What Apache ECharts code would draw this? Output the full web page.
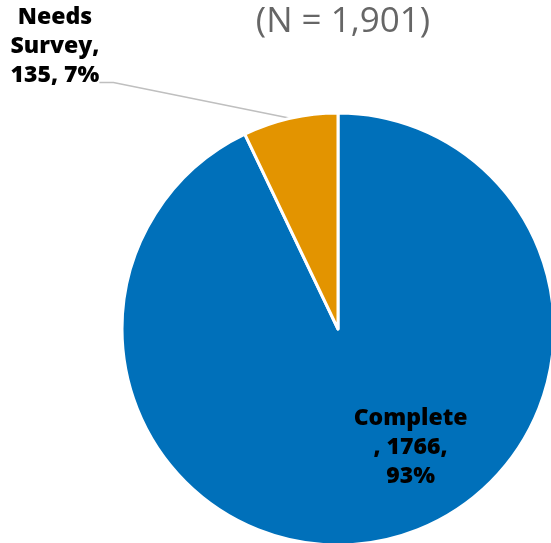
<!DOCTYPE html>
<html><head><meta charset="utf-8">
<script src="https://cdn.jsdelivr.net/npm/echarts@6/dist/echarts.min.js"></script>
<style>html,body{margin:0;padding:0;background:#fff}#c{width:551px;height:543px}</style>
</head><body><div id="c"></div>
<script>
const titleText = '(N = 1,901)';
const categories = ['Complete', 'Needs Survey'];
const values = [1766, 135];
const percents = ['93%', '7%'];
const colors = ['#0070BA', '#E39400'];

const chart = echarts.init(document.getElementById('c'));
const font = '"Open Sans", "Noto Sans", sans-serif';
chart.setOption({
  animation: false,
  title: {
    text: titleText, left: 338, top: 0, textAlign: 'center',
    textStyle: { fontFamily: font, fontSize: 35, fontWeight: 'normal', color: '#666666' }
  },
  series: [{
    type: 'pie',
    center: [338, 329],
    radius: [0, 216],
    startAngle: 90,
    clockwise: true,
    itemStyle: { borderColor: '#fff', borderWidth: 3 },
    labelLine: { show: true, length: 20, length2: 14, lineStyle: { color: '#BFBFBF', width: 1.5 } },
    label: {
      fontFamily: font, fontSize: 23, fontWeight: 800, color: '#000', lineHeight: 29
    },
    labelLayout: function (p) {
      if (p.dataIndex === 1) {
        return { x: 55, y: 3, align: 'center', verticalAlign: 'top' };
      }
      return {};
    },
    data: categories.map((c, i) => ({
      name: c, value: values[i],
      itemStyle: { color: colors[i] },
      label: i === 0
        ? { position: 'inside', offset: [48, 10], formatter: 'Complete\n, ' + values[0] + ',\n' + percents[0], align: 'center' }
        : { position: 'outside', formatter: 'Needs\nSurvey,\n' + values[1] + ', ' + percents[1], align: 'center', padding: [0, 0, 72, 0] },
      labelLine: { show: i === 1 }
    }))
  }]
});
</script></body></html>
